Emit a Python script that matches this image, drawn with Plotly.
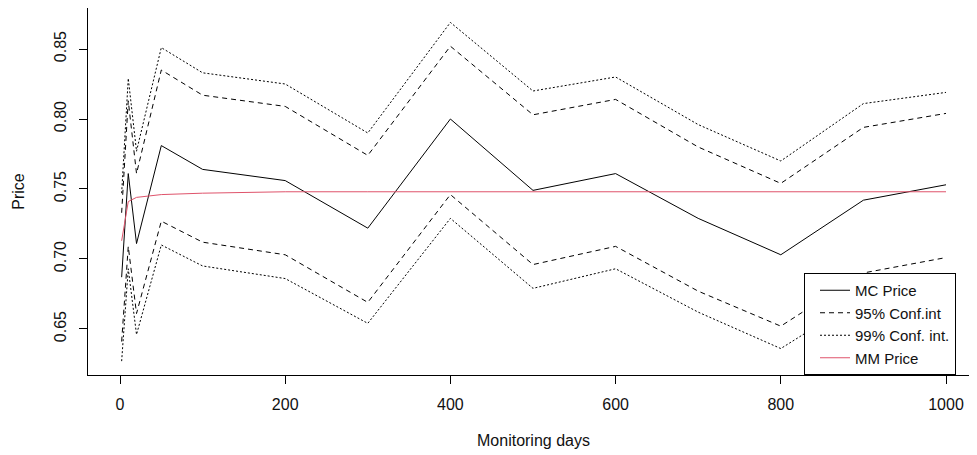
import plotly.graph_objects as go

# ---- data ----
days = [2, 10, 20, 50, 100, 200, 300, 400, 500, 600, 700, 800, 900, 1000]
mc_price = [0.687, 0.761, 0.711, 0.781, 0.764, 0.756, 0.722, 0.800, 0.749, 0.761, 0.729, 0.703, 0.742, 0.753]
ci95_upper = [0.733, 0.813, 0.761, 0.835, 0.817, 0.809, 0.774, 0.852, 0.803, 0.814, 0.780, 0.754, 0.794, 0.804]
ci95_lower = [0.641, 0.709, 0.661, 0.727, 0.712, 0.703, 0.669, 0.746, 0.696, 0.709, 0.677, 0.652, 0.690, 0.701]
ci99_upper = [0.747, 0.829, 0.777, 0.851, 0.833, 0.825, 0.790, 0.869, 0.820, 0.830, 0.796, 0.770, 0.811, 0.819]
ci99_lower = [0.627, 0.693, 0.646, 0.710, 0.695, 0.686, 0.654, 0.729, 0.679, 0.693, 0.662, 0.636, 0.673, 0.686]
mm_price = [0.713, 0.741, 0.744, 0.746, 0.747, 0.748, 0.748, 0.748, 0.748, 0.748, 0.748, 0.748, 0.748, 0.748]

x_ticks = [0, 200, 400, 600, 800, 1000]
y_ticks = [0.65, 0.70, 0.75, 0.80, 0.85]

FONT = "Liberation Sans, Arial, sans-serif"
BLACK = "#000000"
DASH95 = "5px,4px"
DOT99 = "2px,2px"
MM_COLOR = "#DF536B"

fig = go.Figure()

fig.add_trace(go.Scatter(x=days, y=mc_price, mode="lines", name="MC Price",
                         line=dict(color=BLACK, width=1), legendgroup="mc"))
fig.add_trace(go.Scatter(x=days, y=ci95_upper, mode="lines", name="95% Conf.int",
                         line=dict(color=BLACK, width=1, dash=DASH95), legendgroup="c95"))
fig.add_trace(go.Scatter(x=days, y=ci99_upper, mode="lines", name="99% Conf. int.",
                         line=dict(color=BLACK, width=1, dash=DOT99), legendgroup="c99"))
fig.add_trace(go.Scatter(x=days, y=mm_price, mode="lines", name="MM Price",
                         line=dict(color=MM_COLOR, width=1), legendgroup="mm"))
fig.add_trace(go.Scatter(x=days, y=ci95_lower, mode="lines", name="95% Conf.int",
                         line=dict(color=BLACK, width=1, dash=DASH95), legendgroup="c95",
                         showlegend=False))
fig.add_trace(go.Scatter(x=days, y=ci99_lower, mode="lines", name="99% Conf. int.",
                         line=dict(color=BLACK, width=1, dash=DOT99), legendgroup="c99",
                         showlegend=False))

# page body has an 8px margin: plot area lands at screen x 88..979, y 8..375
fig.update_layout(
    width=977, height=455,
    margin=dict(l=80, r=6, t=0, b=88, autoexpand=False),
    paper_bgcolor="white", plot_bgcolor="white",
    font=dict(family=FONT, size=16, color="#111111"),
    showlegend=True,
    legend=dict(
        x=(804 - 88) / 891, y=0, xanchor="left", yanchor="bottom",
        bgcolor="white", bordercolor=BLACK, borderwidth=1,
        font=dict(family=FONT, size=15, color="#111111"),
        tracegroupgap=0, traceorder="normal", indentation=10,
    ),
    xaxis=dict(
        range=[-38.74, 1039.95], tickvals=x_ticks, ticktext=[str(v) for v in x_ticks],
        showgrid=False, zeroline=False, showline=True, linecolor=BLACK, linewidth=1,
        mirror=True, ticks="outside", ticklen=8, tickcolor=BLACK, tickwidth=1,
        ticklabelstandoff=7,
        title=dict(text="Monitoring days", standoff=22, font=dict(size=16)),
    ),
    yaxis=dict(
        range=[0.6171, 0.8793], tickvals=y_ticks, ticktext=[f"{v:.2f}" for v in y_ticks],
        tickangle=-90,
        showgrid=False, zeroline=False, showline=True, linecolor=BLACK, linewidth=1,
        mirror=False, ticks="outside", ticklen=8, tickcolor=BLACK, tickwidth=1,
        ticklabelstandoff=7,
        title=dict(text="Price", standoff=22, font=dict(size=16)),
    ),
)

fig.write_html("out.html")
